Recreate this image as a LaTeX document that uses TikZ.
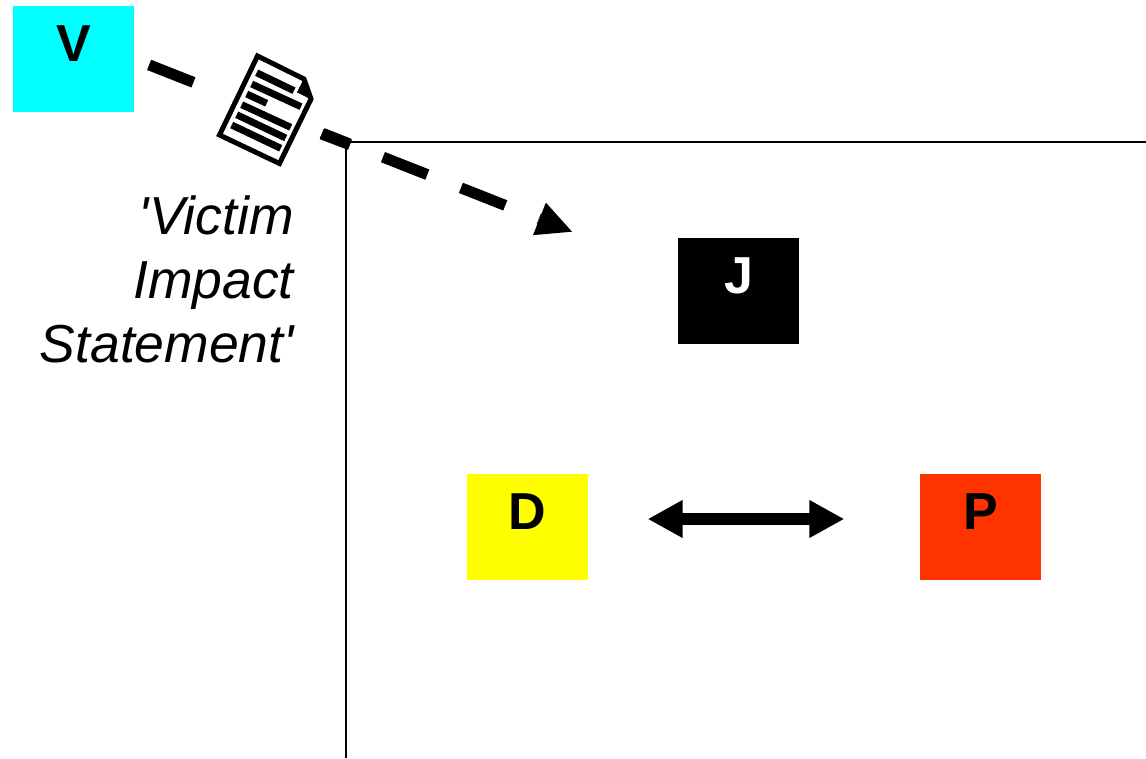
\documentclass[tikz,border=0pt]{standalone}
\usepackage{fontspec}
\setmainfont{Liberation Sans}
\usetikzlibrary{arrows.meta}
\definecolor{partyblue}{RGB}{0,255,255}
\definecolor{partyyellow}{RGB}{255,255,0}
\definecolor{partyred}{RGB}{255,51,0}
\tikzset{
    party/.style={minimum width=121pt,minimum height=106pt,inner sep=0pt,text height=37pt,text depth=32pt,font=\fontsize{52}{52}\selectfont\bfseries},
    docbar/.style={line width=7pt},
    axisline/.style={line width=2pt}
}
\begin{document}
\begin{tikzpicture}[x=1pt,y=-1pt]
        \useasboundingbox(0,0)rectangle(1146,758);

        \node[party,fill=partyblue](V)at(73.5,59){V};
        \node[party,fill=black,text=white](J)at(738.5,291){J};
        \node[party,fill=partyyellow](D)at(527.5,527){D};
        \node[party,fill=partyred](P)at(980.5,527){P};
        \coordinate(statementend)at(572,231.7);

        \draw[-{Triangle[length=35pt,width=35pt,line width=0pt]},line width=11pt,dash pattern=on 47.7pt off 36.1pt,shorten <=16pt](V.east)--(statementend);
        \filldraw[white,line width=51pt,line join=miter](258,56)--(304,79)--(310.5,99)--(279,163)--(220,135)--cycle;

        \draw[axisline](1146,142)--(346,142)--(346,758);
        \draw[line width=11pt](321.7,134)--(350,144.8);

        \draw[line width=5pt,line join=miter](257.5,56)--(304,79)--(311,99)--(279.5,163.5)--(219.5,135)--cycle;
        \filldraw[black](304,79)--(311,99)--(297.3,92.3)--cycle;
        \draw[docbar](256.7,72.7)--(294,90.7);
        \draw[docbar](251.7,84)--(301,106.7);
        \draw[docbar](246.7,94)--(266.7,103.3);
        \draw[docbar](241.7,104.7)--(290.7,127.3);
        \draw[docbar](236.7,114.7)--(285.7,138);
        \draw[docbar](231.7,125)--(280.7,148.3);

        \node[anchor=north east,inner sep=0pt,align=right,font=\fontsize{53.5}{64}\selectfont\itshape](statement)at(294,196){\textquotesingle Victim\\Impact\\Statement\textquotesingle};

        \draw[{Triangle[length=35pt,width=35.5pt]}-{Triangle[length=35pt,width=35.5pt]},line width=12pt,shorten <=59.5pt,shorten >=75.5pt]([yshift=8pt]D.east)--([yshift=8pt]P.west);
    \end{tikzpicture}
\end{document}
